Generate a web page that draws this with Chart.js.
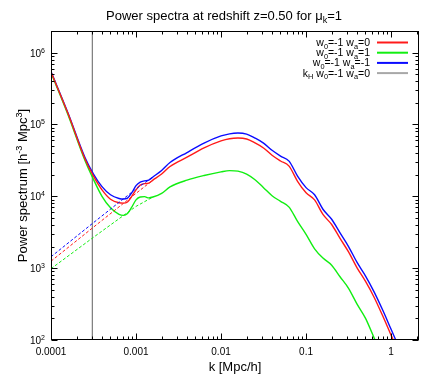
<!DOCTYPE html>
<html>
<head>
<meta charset="utf-8">
<script src="https://cdn.jsdelivr.net/npm/chart.js@4/dist/chart.umd.min.js"></script>
<style>
  html, body { margin: 0; padding: 0; background: #fff; }
  #wrap { width: 436px; height: 374px; }
</style>
</head>
<body>
<div id="wrap"><canvas id="myChart"></canvas></div>
<script>
// wavenumbers k [Mpc/h] for the full spectra
const kGrid = [1e-4, 1.58e-4, 2.51e-4, 3.16e-4, 3.98e-4, 5.01e-4, 6.31e-4, 7.08e-4, 7.94e-4, 8.91e-4,
  1.0e-3, 1.12e-3, 1.26e-3, 1.41e-3, 1.58e-3, 2.0e-3, 2.51e-3, 3.98e-3, 6.31e-3, 0.01,
  0.0126, 0.0158, 0.02, 0.0251, 0.0316, 0.0398, 0.0501, 0.0631, 0.0794, 0.1,
  0.126, 0.158, 0.2, 0.251, 0.316, 0.398, 0.501, 0.631, 0.794, 1.0, 1.26, 1.58];

// w0=-1 wa=0 (red)
const pWa0 = [5.37e5, 1.43e5, 3.31e4, 1.91e4, 1.23e4, 9.12e3, 8.13e3, 8.04e3, 8.32e3, 1.0e4,
  1.23e4, 1.43e4, 1.50e4, 1.53e4, 1.68e4, 2.04e4, 2.60e4, 3.51e4, 4.73e4, 5.92e4,
  6.34e4, 6.47e4, 6.27e4, 5.53e4, 4.71e4, 3.73e4, 3.10e4, 2.63e4, 1.62e4, 1.12e4,
  8.91e3, 5.60e3, 4.05e3, 2.60e3, 1.68e3, 1.01e3, 653, 394, 219, 117, 63, 37];

// w0=-1 wa=1 (green)
const pWa1 = [5.25e5, 1.38e5, 3.16e4, 1.72e4, 1.0e4, 6.92e3, 5.62e3, 5.43e3, 5.75e3, 7.08e3,
  8.91e3, 9.77e3, 9.89e3, 9.51e3, 9.77e3, 1.10e4, 1.35e4, 1.68e4, 1.95e4, 2.19e4,
  2.28e4, 2.24e4, 2.04e4, 1.70e4, 1.32e4, 1.02e4, 8.51e3, 7.08e3, 4.47e3, 2.95e3,
  1.86e3, 1.38e3, 1.10e3, 759, 525, 316, 200, 107, 56, 30, 16, 8];

// w0=-1 wa=-1 (blue)
const pWaM1 = [5.45e5, 1.46e5, 3.47e4, 2.04e4, 1.365e4, 1.05e4, 9.33e3, 9.16e3, 9.44e3, 1.12e4,
  1.41e4, 1.58e4, 1.64e4, 1.68e4, 1.86e4, 2.29e4, 2.95e4, 4.07e4, 5.50e4, 6.92e4,
  7.41e4, 7.59e4, 7.33e4, 6.46e4, 5.50e4, 4.37e4, 3.63e4, 3.09e4, 1.91e4, 1.32e4,
  1.05e4, 6.61e3, 4.79e3, 3.09e3, 2.0e3, 1.20e3, 776, 468, 263, 141, 76, 45];

// dashed spectra without the horizon-scale terms
const kDash = [1e-4, 3.16e-4, 1e-3, 1.58e-3];
const dashWa0 = [1.25e3, 3.72e3, 1.10e4, 1.68e4];
const dashWa1 = [982, 2.69e3, 7.24e3, 9.77e3];
const dashWaM1 = [1.44e3, 4.30e3, 1.27e4, 1.86e4];

// horizon scale k_H
const kHorizon = 3.06e-4;

const xTickValues = [1e-4, 1e-3, 1e-2, 0.1, 1];
const xTickLabels = ['0.0001', '0.001', '0.01', '0.1', '1'];
const yTickValues = [1e2, 1e3, 1e4, 1e5, 1e6];
const yTickExps = ['2', '3', '4', '5', '6'];

const RED = '#ff1a1a', GREEN = '#11ee11', BLUE = '#0a0aff', GREY = '#606060';
const FONT = '"Liberation Sans", Arial, Helvetica, sans-serif';

function pts(xs, ys) {
  return xs.map((x, i) => ({ x: x, y: ys[i] }));
}

// draws text pieces; s: 0 normal, -1 subscript, 1 superscript
function richWidth(ctx, parts, size) {
  let w = 0;
  parts.forEach(p => {
    ctx.font = (p.s ? size * 0.7 : size) + 'px ' + FONT;
    w += ctx.measureText(p.t).width;
  });
  return w;
}
function drawRich(ctx, parts, x, y, size, align) {
  const w = richWidth(ctx, parts, size);
  let cx = align === 'right' ? x - w : align === 'center' ? x - w / 2 : x;
  ctx.textAlign = 'left';
  ctx.textBaseline = 'alphabetic';
  parts.forEach(p => {
    ctx.font = (p.s ? size * 0.7 : size) + 'px ' + FONT;
    const dy = p.s === -1 ? size * 0.25 : p.s === 1 ? -size * 0.4 : 0;
    ctx.fillText(p.t, cx, y + dy);
    cx += ctx.measureText(p.t).width;
  });
}

const legendItems = [
  { color: RED, parts: [{t:'w'},{t:'0',s:-1},{t:'=-1 w'},{t:'a',s:-1},{t:'=0'}] },
  { color: GREEN, parts: [{t:'w'},{t:'0',s:-1},{t:'=-1 w'},{t:'a',s:-1},{t:'=1'}] },
  { color: BLUE, parts: [{t:'w'},{t:'0',s:-1},{t:'=-1 w'},{t:'a',s:-1},{t:'=-1'}] },
  { color: '#a8a8a8', parts: [{t:'k'},{t:'H',s:-1},{t:' w'},{t:'0',s:-1},{t:'=-1 w'},{t:'a',s:-1},{t:'=0'}] }
];

const frame = {
  id: 'frame',
  afterDraw(chart) {
    const { ctx, chartArea: a, scales: { x, y } } = chart;
    ctx.save();
    ctx.strokeStyle = '#000';
    ctx.fillStyle = '#000';
    ctx.lineWidth = 1;
    const L = Math.round(a.left) + 0.5, R = Math.round(a.right) - 0.5;
    const T = Math.round(a.top) + 0.5, B = Math.round(a.bottom) - 0.5;
    ctx.strokeRect(L, T, R - L, B - T);

    // tick marks pointing inwards on all four sides
    ctx.beginPath();
    for (let e = -4; e <= 0; e++) {
      for (let m = 1; m <= 9; m++) {
        const v = m * Math.pow(10, e);
        if (v > x.max) break;
        const px = Math.round(x.getPixelForValue(v)) + 0.5;
        const len = m === 1 ? 6 : 3;
        ctx.moveTo(px, B); ctx.lineTo(px, B - len);
        ctx.moveTo(px, T); ctx.lineTo(px, T + len);
      }
    }
    for (let e = 2; e <= 6; e++) {
      for (let m = 1; m <= 9; m++) {
        const v = m * Math.pow(10, e);
        if (v > y.max) break;
        const py = Math.round(y.getPixelForValue(v)) + 0.5;
        const len = m === 1 ? 6 : 3;
        ctx.moveTo(L, py); ctx.lineTo(L + len, py);
        ctx.moveTo(R, py); ctx.lineTo(R - len, py);
      }
    }
    ctx.stroke();

    // x tick labels
    ctx.font = '10px ' + FONT;
    ctx.textAlign = 'center';
    ctx.textBaseline = 'middle';
    xTickValues.forEach((v, i) => {
      ctx.fillText(xTickLabels[i], x.getPixelForValue(v), a.bottom + 12);
    });

    // y tick labels 10^n
    yTickValues.forEach((v, i) => {
      const py = y.getPixelForValue(v);
      drawRich(ctx, [{t:'10'},{t:yTickExps[i],s:1}], a.left - 6, py + 4, 10, 'right');
    });

    // axis titles
    ctx.font = '13px ' + FONT;
    ctx.textAlign = 'center';
    ctx.textBaseline = 'alphabetic';
    ctx.fillText('k [Mpc/h]', (a.left + a.right) / 2, 371);

    ctx.save();
    ctx.translate(27, (a.top + a.bottom) / 2);
    ctx.rotate(-Math.PI / 2);
    drawRich(ctx, [{t:'Power spectrum [h'},{t:'-3',s:1},{t:' Mpc'},{t:'3',s:1},{t:']'}], 0, 0, 13, 'center');
    ctx.restore();

    // title
    drawRich(ctx, [{t:'Power spectra at redshift z=0.50 for \u03bc'},{t:'k',s:-1},{t:'=1'}], 224, 20, 13, 'center');

    // legend, text right aligned, sample to the right
    legendItems.forEach((it, i) => {
      const ly = 42.5 + i * 10.2;
      ctx.fillStyle = '#000';
      drawRich(ctx, it.parts, 370, ly + 3.5, 10.5, 'right');
      ctx.strokeStyle = it.color;
      ctx.lineWidth = 2;
      ctx.beginPath();
      ctx.moveTo(377, ly); ctx.lineTo(408, ly);
      ctx.stroke();
    });
    ctx.restore();
  }
};

const solid = (label, color, ys) => ({
  label: label, data: pts(kGrid, ys), borderColor: color, borderWidth: 1.4,
  pointRadius: 0, cubicInterpolationMode: 'monotone', fill: false
});
const dashed = (color, ys) => ({
  label: '', data: pts(kDash, ys), borderColor: color, borderWidth: 1,
  borderDash: [3, 2], pointRadius: 0, fill: false
});

new Chart(document.getElementById('myChart'), {
  type: 'line',
  data: {
    datasets: [
      dashed(RED, dashWa0),
      dashed(GREEN, dashWa1),
      dashed(BLUE, dashWaM1),
      solid('w0=-1 wa=0', RED, pWa0),
      solid('w0=-1 wa=1', GREEN, pWa1),
      solid('w0=-1 wa=-1', BLUE, pWaM1),
      {
        label: 'kH w0=-1 wa=0', data: [{ x: kHorizon, y: 100 }, { x: kHorizon, y: 2e6 }],
        borderColor: GREY, borderWidth: 1, pointRadius: 0
      }
    ]
  },
  options: {
    responsive: true,
    maintainAspectRatio: false,
    animation: false,
    layout: { padding: { left: 51, right: 17, top: 31, bottom: 34 } },
    plugins: { legend: { display: false }, tooltip: { enabled: false }, title: { display: false } },
    scales: {
      x: { type: 'logarithmic', min: 1e-4, max: 2.13, display: false },
      y: { type: 'logarithmic', min: 100, max: 2e6, display: false }
    }
  },
  plugins: [frame]
});
</script>
</body>
</html>
